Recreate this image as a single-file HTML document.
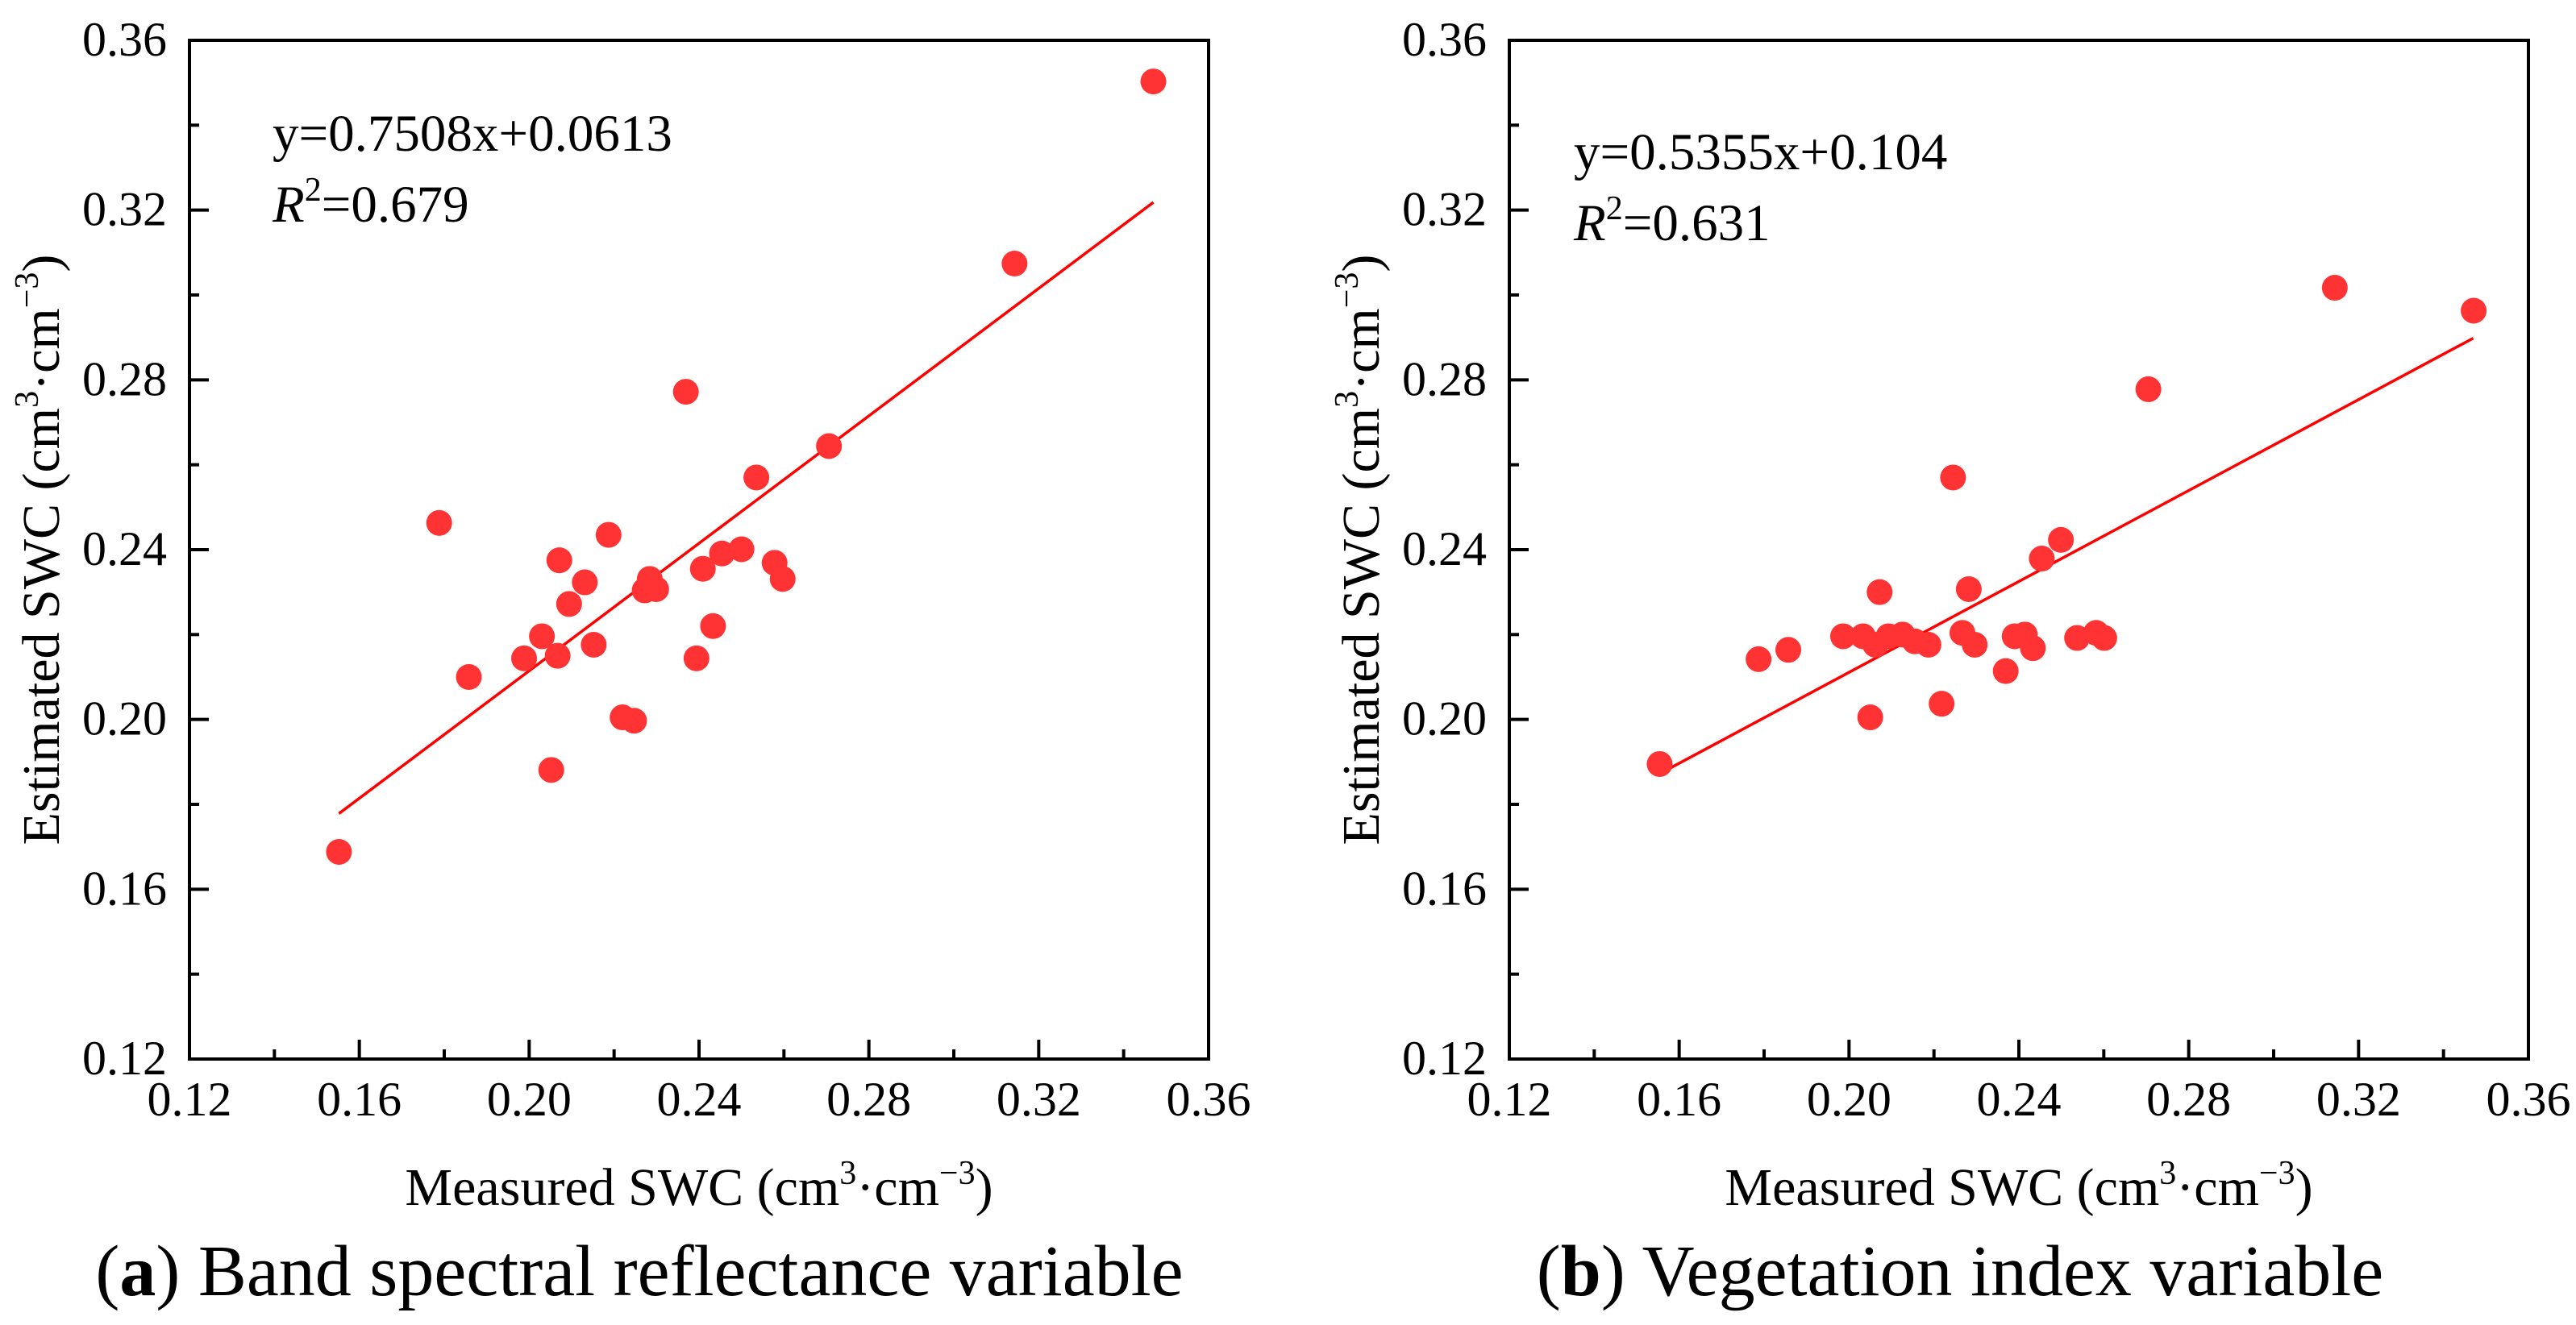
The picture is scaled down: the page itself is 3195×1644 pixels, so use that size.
<!DOCTYPE html>
<html><head><meta charset="utf-8"><style>
html,body{margin:0;padding:0;background:#fff;}
svg{display:block;}
svg text{font-family:"Liberation Serif","Times New Roman",serif;}
</style></head><body>
<svg id="fig" width="3195" height="1644" viewBox="0 0 3195 1644" font-family="Liberation Serif, serif"></svg>
<script>
const xTicks=[0.12,0.16,0.20,0.24,0.28,0.32,0.36];
const yTicks=[0.12,0.16,0.20,0.24,0.28,0.32,0.36];
const tickLabels=["0.12","0.16","0.20","0.24","0.28","0.32","0.36"];
const aMeasured=[0.1552,0.1788,0.1858,0.1988,0.2030,0.2067,0.2071,0.2052,0.2094,0.2131,0.2152,0.2187,0.2220,0.2247,0.2272,0.2284,0.2299,0.2369,0.2394,0.2409,0.2433,0.2454,0.2500,0.2535,0.2578,0.2597,0.2706,0.3143,0.3470];
const aEstimated=[0.1688,0.2463,0.2100,0.2144,0.2196,0.2150,0.2375,0.1881,0.2272,0.2323,0.2176,0.2435,0.2005,0.1997,0.2304,0.2331,0.2307,0.2772,0.2144,0.2355,0.2220,0.2391,0.2401,0.2570,0.2369,0.2331,0.2644,0.3074,0.3503];
const bMeasured=[0.1554,0.1787,0.1857,0.1986,0.2033,0.2062,0.2050,0.2072,0.2093,0.2126,0.2155,0.2187,0.2218,0.2245,0.2267,0.2282,0.2296,0.2369,0.2390,0.2414,0.2433,0.2454,0.2499,0.2537,0.2582,0.2601,0.2705,0.3144,0.3471];
const bEstimated=[0.1895,0.2142,0.2164,0.2196,0.2196,0.2176,0.2005,0.2300,0.2196,0.2200,0.2184,0.2176,0.2037,0.2570,0.2204,0.2307,0.2176,0.2114,0.2196,0.2200,0.2168,0.2379,0.2423,0.2192,0.2204,0.2192,0.2778,0.3017,0.2963];
const fitA=[0.7508,0.0613];
const fitB=[0.5355,0.104];
const fitRange=[0.1552,0.347];

const NS="http://www.w3.org/2000/svg";
const svg=document.getElementById('fig');
function mk(tag,attrs,parent,text){const e=document.createElementNS(NS,tag);for(const k in attrs)e.setAttribute(k,attrs[k]);if(tag==='text')e.setAttribute('font-family','Liberation Serif, serif');if(text!==undefined)e.textContent=text;(parent||svg).appendChild(e);return e;}

function panel(id,L,mx,my,fit,eqText,r2Text,caption,capLetter,eqX,eqY,capX){
  const T=50,W=1264,H=1264,B=T+H;
  const g=mk('g',{});
  
  
  const sx=v=>L+(v-0.12)/0.24*W;
  const sy=v=>B-(v-0.12)/0.24*H;
  const frame=mk('rect',{x:L,y:T,width:W,height:H,fill:'none',stroke:'#000','stroke-width':4},g);
  
  
  for(let i=0;i<xTicks.length;i++){
    const x=sx(xTicks[i]);
    mk('line',{x1:x,y1:B,x2:x,y2:B-24,stroke:'#000','stroke-width':4},g);
    if(i<xTicks.length-1){const xm=sx(xTicks[i]+0.02);mk('line',{x1:xm,y1:B,x2:xm,y2:B-12,stroke:'#000','stroke-width':4},g);}
    const t=mk('text',{x:x,y:1384,'text-anchor':'middle','font-size':60},g,tickLabels[i]);
    
    
  }
  for(let i=0;i<yTicks.length;i++){
    const y=sy(yTicks[i]);
    mk('line',{x1:L,y1:y,x2:L+24,y2:y,stroke:'#000','stroke-width':4},g);
    if(i<yTicks.length-1){const ym=sy(yTicks[i]+0.02);mk('line',{x1:L,y1:ym,x2:L+12,y2:ym,stroke:'#000','stroke-width':4},g);}
    const t=mk('text',{x:L-28,y:y+19,'text-anchor':'end','font-size':60},g,tickLabels[i]);
    
    
  }
  const ln=mk('line',{x1:sx(fitRange[0]),y1:sy(fit[0]*fitRange[0]+fit[1]),x2:sx(fitRange[1]),y2:sy(fit[0]*fitRange[1]+fit[1]),stroke:'#f00','stroke-width':3.5},g);
  
  
  for(let i=0;i<mx.length;i++){
    const c=mk('circle',{cx:sx(mx[i]),cy:sy(my[i]),r:16,fill:'#ff3333'},g);
    
    
  }
  const eq=mk('text',{x:eqX,y:eqY,'font-size':65},g,eqText);
  
  
  const r2=mk('text',{x:eqX,y:eqY+88,'font-size':65},g);
  
  
  mk('tspan',{'font-style':'italic'},r2,'R');
  mk('tspan',{'font-size':42,dy:-26},r2,'2');
  mk('tspan',{dy:26},r2,'='+r2Text);
  const cx=L+W/2;
  const xt=mk('text',{x:cx,y:1495,'text-anchor':'middle','font-size':66},g);
  
  
  mk('tspan',{},xt,'Measured SWC (cm');
  mk('tspan',{'font-size':42,dy:-26},xt,'3');
  mk('tspan',{dy:26},xt,'·cm');
  mk('tspan',{'font-size':42,dy:-26},xt,'−3');
  mk('tspan',{dy:26},xt,')');
  const yx=L-162, yc=682;
  const yt=mk('text',{x:yx,y:yc,'text-anchor':'middle','font-size':66,transform:`rotate(-90 ${yx} ${yc})`},g);
  
  
  mk('tspan',{},yt,'Estimated SWC (cm');
  mk('tspan',{'font-size':42,dy:-26},yt,'3');
  mk('tspan',{dy:26},yt,'·cm');
  mk('tspan',{'font-size':42,dy:-26},yt,'−3');
  mk('tspan',{dy:26},yt,')');
  const cap=mk('text',{x:capX,y:1607,'text-anchor':'middle','font-size':90},g);
  
  
  mk('tspan',{},cap,'(');
  mk('tspan',{'font-weight':'bold'},cap,capLetter);
  mk('tspan',{},cap,') '+caption);
}
panel('a',235,aMeasured,aEstimated,fitA,'y=0.7508x+0.0613','0.679','Band spectral reflectance variable','a',338,187,793);
panel('b',1872,bMeasured,bEstimated,fitB,'y=0.5355x+0.104','0.631','Vegetation index variable','b',1952,210,2431);
</script>
</body></html>
